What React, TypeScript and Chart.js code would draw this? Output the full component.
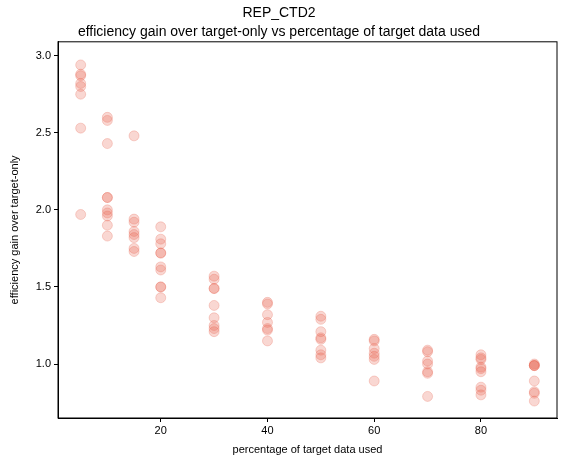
import React, { useEffect, useRef } from "react";
import { Chart, registerables } from "chart.js";
Chart.register(...registerables);

const xValues = [5, 10, 15, 20, 30, 40, 50, 60, 70, 80, 90];
const yGroups: number[][] = [
  [2.94, 2.88, 2.87, 2.82, 2.8, 2.75, 2.53, 1.97],
  [2.6, 2.58, 2.43, 2.08, 2.08, 2.0, 1.98, 1.96, 1.9, 1.83],
  [2.48, 1.94, 1.92, 1.86, 1.84, 1.82, 1.75, 1.73],
  [1.89, 1.81, 1.78, 1.72, 1.72, 1.63, 1.61, 1.5, 1.5, 1.43],
  [1.57, 1.55, 1.49, 1.49, 1.38, 1.3, 1.25, 1.23, 1.21],
  [1.4, 1.39, 1.32, 1.27, 1.23, 1.22, 1.15],
  [1.31, 1.29, 1.21, 1.17, 1.16, 1.09, 1.06, 1.04],
  [1.16, 1.15, 1.1, 1.07, 1.05, 1.03, 0.89],
  [1.09, 1.08, 1.02, 1.0, 0.95, 0.94, 0.79],
  [1.06, 1.04, 1.03, 0.98, 0.97, 0.95, 0.85, 0.83, 0.8],
  [1.0, 0.99, 0.99, 0.99, 0.89, 0.82, 0.81, 0.76],
];
const xTicks = [20, 40, 60, 80];
const yTicks = [1.0, 1.5, 2.0, 2.5, 3.0];

const FONT = "'Liberation Sans', Arial, sans-serif";

export default function App() {
  const ref = useRef<HTMLCanvasElement>(null);
  useEffect(() => {
    document.body.style.margin = "0";
    const points = xValues.flatMap((x, i) => yGroups[i].map((y) => ({ x, y })));
    const frame = {
      id: "frame",
      afterDraw(c: any) {
        const { left, right, top, bottom } = c.chartArea;
        const ctx = c.ctx;
        ctx.save();
        ctx.strokeStyle = "#000";
        ctx.lineWidth = 1;
        ctx.strokeRect(left, top, right - left, bottom - top);
        ctx.restore();
      },
    };
    const chart = new Chart(ref.current!, {
      type: "scatter",
      data: {
        datasets: [
          {
            data: points,
            backgroundColor: "rgba(232,96,76,0.25)",
            borderColor: "rgba(232,96,76,0.25)",
            pointRadius: 5,
            pointBorderWidth: 1,
          },
        ],
      },
      options: {
        animation: false,
        responsive: false,
        layout: { padding: { left: 0, right: 5, top: 0, bottom: 8 } },
        plugins: {
          legend: { display: false },
          tooltip: { enabled: false },
          title: {
            display: true,
            text: ["REP_CTD2", "efficiency gain over target-only vs percentage of target data used"],
            color: "#000",
            font: { family: FONT, size: 14, weight: "normal", lineHeight: 1.35 },
            padding: { top: 4, bottom: 0 },
          },
        },
        scales: {
          x: {
            type: "linear",
            min: 0.75,
            max: 94.25,
            afterBuildTicks: (s: any) => { s.ticks = xTicks.map((v) => ({ value: v })); },
            afterFit: (s: any) => { s.height = 41; },
            grid: { drawOnChartArea: false, tickLength: 4, color: "#000" },
            border: { color: "#000" },
            ticks: { color: "#000", font: { family: FONT, size: 11 }, padding: 2, maxRotation: 0 },
            title: { display: true, text: "percentage of target data used", color: "#000", font: { family: FONT, size: 11 }, padding: 2 },
          },
          y: {
            type: "linear",
            min: 0.65,
            max: 3.09,
            afterBuildTicks: (s: any) => { s.ticks = yTicks.map((v) => ({ value: v })); },
            afterFit: (s: any) => { s.width = 58; },
            grid: { drawOnChartArea: false, tickLength: 4, color: "#000" },
            border: { color: "#000" },
            ticks: { color: "#000", font: { family: FONT, size: 11 }, padding: 3, callback: (v: any) => Number(v).toFixed(1) },
            title: { display: true, text: "efficiency gain over target-only", color: "#000", font: { family: FONT, size: 11 }, padding: { top: 8, bottom: 2 } },
          },
        },
      },
      plugins: [frame],
    });
    return () => chart.destroy();
  }, []);
  return <canvas ref={ref} width={563} height={467} style={{ display: "block" }} />;
}
